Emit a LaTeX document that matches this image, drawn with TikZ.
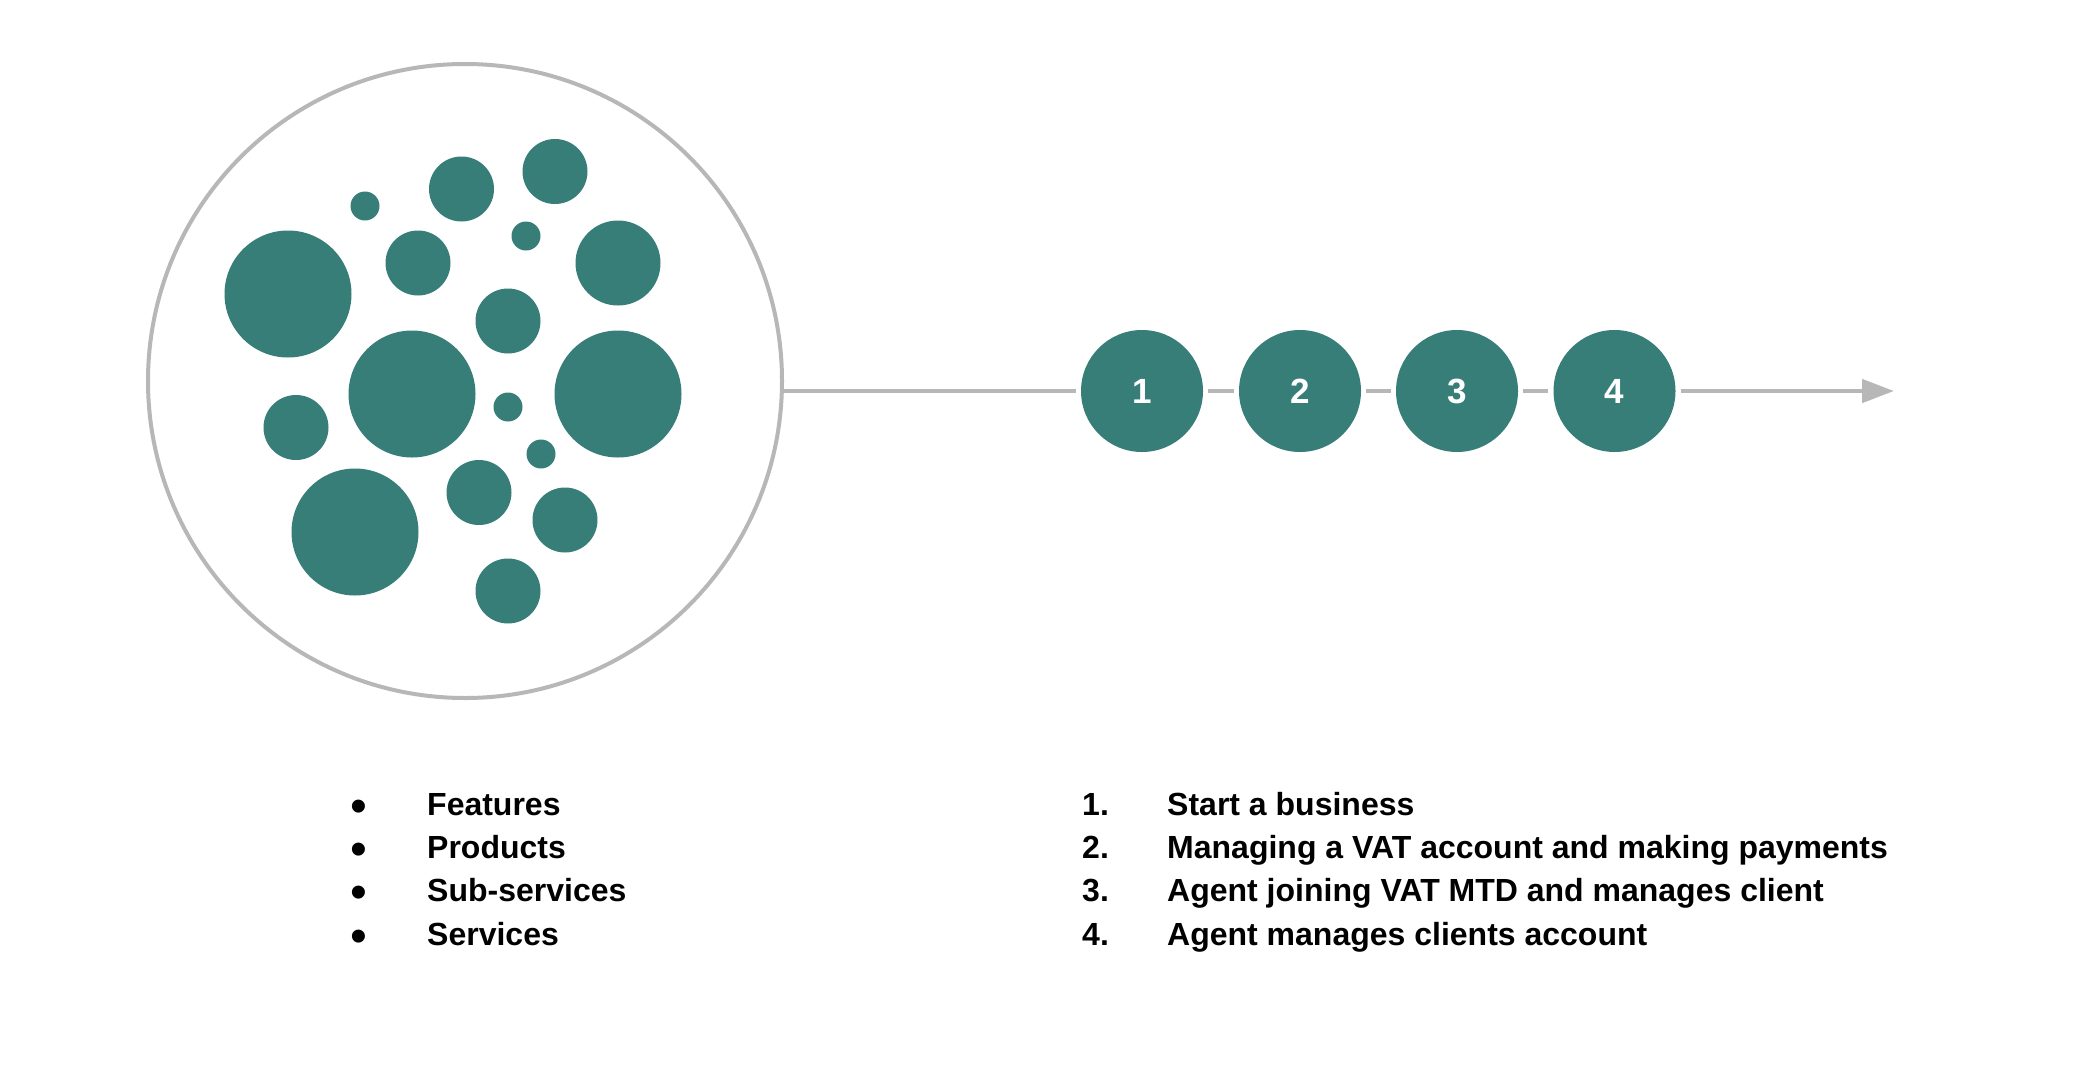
\documentclass[tikz,border=0pt]{standalone}
\usepackage{fontspec}
\setmainfont{Liberation Sans}
\usetikzlibrary{arrows.meta}
\definecolor{tealfill}{HTML}{387E78}
\definecolor{linegray}{HTML}{B7B7B7}
\begin{document}
\begin{tikzpicture}[x=1pt,y=-1pt,
  blob/.style={circle, fill=tealfill, draw=none, inner sep=0pt, minimum size=#1},
  stepnode/.style={circle, fill=tealfill, draw=none, inner sep=0pt, minimum size=122pt,
    text=white, font=\fontsize{35}{35}\selectfont\bfseries},
  conn/.style={draw=linegray, line width=4.7pt},
  listtext/.style={anchor=base west, inner sep=0pt, font=\fontsize{32}{36}\selectfont\bfseries},
  bulletmark/.style={anchor=base, inner sep=0pt, font=\fontsize{48}{48}\selectfont}
]
\useasboundingbox[fill=white] (0,0) rectangle (2098,1087);

% big container circle
\node[circle, draw=linegray, line width=4pt, minimum size=634pt, inner sep=0pt] (main) at (465,381) {};

% blobs inside
\node[blob=29pt]  (b1)  at (365,206) {};
\node[blob=65pt]  (b2)  at (461.5,189) {};
\node[blob=65pt]  (b3)  at (555,171.5) {};
\node[blob=29pt]  (b4)  at (526,236) {};
\node[blob=65pt]  (b5)  at (418,263) {};
\node[blob=127pt] (b6)  at (288,294) {};
\node[blob=85pt]  (b7)  at (618,263) {};
\node[blob=65pt]  (b8)  at (508,321) {};
\node[blob=127pt] (b9)  at (412,394) {};
\node[blob=127pt] (b10) at (618,394) {};
\node[blob=65pt]  (b11) at (296,427.5) {};
\node[blob=29pt]  (b12) at (508,407) {};
\node[blob=29pt]  (b13) at (541,454) {};
\node[blob=65pt]  (b14) at (479,492.5) {};
\node[blob=127pt] (b15) at (355,532) {};
\node[blob=65pt]  (b16) at (565,520) {};
\node[blob=65pt]  (b17) at (508,591) {};

% step nodes
\node[stepnode] (n1) at (1142,391) {1};
\node[stepnode] (n2) at (1300,391) {2};
\node[stepnode] (n3) at (1457,391) {3};
\node[stepnode] (n4) at (1614.5,391) {4};
\coordinate (arrowend) at (1894,391);

% connectors
\draw[conn] (main.east |- n1.center) -- ([xshift=-5pt]n1.west);
\draw[conn] ([xshift=5pt]n1.east) -- ([xshift=-5pt]n2.west);
\draw[conn] ([xshift=5pt]n2.east) -- ([xshift=-5pt]n3.west);
\draw[conn] ([xshift=5pt]n3.east) -- ([xshift=-5pt]n4.west);
\draw[conn, -{Triangle[length=32pt,width=23pt]}] ([xshift=5pt]n4.east) -- (arrowend);

% bullet list
\node[bulletmark] (bu1) at (359,822) {•};
\node[bulletmark] (bu2) at (359,865.3) {•};
\node[bulletmark] (bu3) at (359,908.6) {•};
\node[bulletmark] (bu4) at (359,952) {•};
\node[listtext] (t1) at (427,815) {Features};
\node[listtext] (t2) at (427,858.3) {Products};
\node[listtext] (t3) at (427,901.6) {Sub-services};
\node[listtext] (t4) at (427,945) {Services};

% numbered list
\node[listtext] (m1) at (1082,815) {1.};
\node[listtext] (m2) at (1082,858.3) {2.};
\node[listtext] (m3) at (1082,901.6) {3.};
\node[listtext] (m4) at (1082,945) {4.};
\node[listtext] (s1) at (1167,815) {Start a business};
\node[listtext] (s2) at (1167,858.3) {Managing a VAT account and making payments};
\node[listtext] (s3) at (1167,901.6) {Agent joining VAT MTD and manages client};
\node[listtext] (s4) at (1167,945) {Agent manages clients account};
\end{tikzpicture}
\end{document}
